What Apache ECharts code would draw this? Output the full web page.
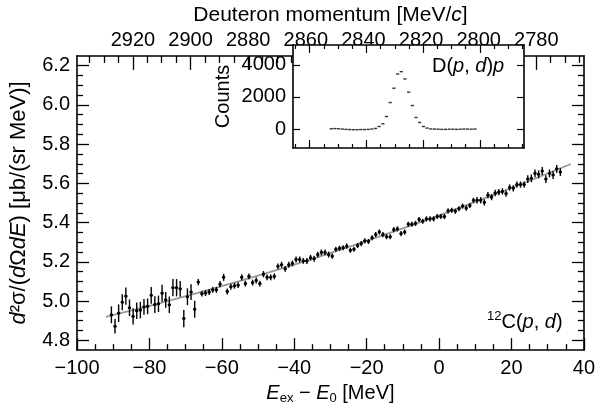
<!DOCTYPE html>
<html><head><meta charset="utf-8">
<script src="https://cdn.jsdelivr.net/npm/echarts@6/dist/echarts.min.js"></script>
<style>html,body{margin:0;padding:0;background:#fff}#c{width:598px;height:410px}</style>
</head><body><div id="c"></div>
<script>
// ---- main spectrum: 12C(p,d), bin centres in MeV ----
const energy = [-90.5,-89.5,-88.5,-87.5,-86.5,-85.5,-84.5,-83.5,-82.5,-81.5,-80.5,-79.5,-78.5,-77.5,-76.5,-75.5,-74.5,-73.5,-72.5,-71.5,
-70.5,-69.5,-68.5,-67.5,-66.5,-65.5,-64.5,-63.5,-62.5,-61.5,-60.5,-59.5,-58.5,-57.5,-56.5,-55.5,-54.5,-53.5,-52.5,-51.5,
-50.5,-49.5,-48.5,-47.5,-46.5,-45.5,-44.5,-43.5,-42.5,-41.5,-40.5,-39.5,-38.5,-37.5,-36.5,-35.5,-34.5,-33.5,-32.5,-31.5,
-30.5,-29.5,-28.5,-27.5,-26.5,-25.5,-24.5,-23.5,-22.5,-21.5,-20.5,-19.5,-18.5,-17.5,-16.5,-15.5,-14.5,-13.5,-12.5,-11.5,
-10.5,-9.5,-8.5,-7.5,-6.5,-5.5,-4.5,-3.5,-2.5,-1.5,-0.5,0.5,1.5,2.5,3.5,4.5,5.5,6.5,7.5,8.5,
9.5,10.5,11.5,12.5,13.5,14.5,15.5,16.5,17.5,18.5,19.5,20.5,21.5,22.5,23.5,24.5,25.5,26.5,27.5,28.5,
29.5,30.5,31.5,32.5,33.5];
const crossSection = [4.930,4.871,4.938,4.994,5.025,4.966,4.922,4.951,4.954,4.970,4.973,5.029,4.982,4.986,5.040,5.006,4.981,5.068,5.068,5.062,
4.911,5.022,5.046,4.958,5.097,5.038,5.041,5.046,5.057,5.057,5.086,5.121,5.049,5.073,5.078,5.081,5.121,5.089,5.126,5.094,
5.105,5.089,5.137,5.121,5.121,5.126,5.177,5.185,5.164,5.185,5.192,5.212,5.212,5.205,5.204,5.221,5.216,5.237,5.248,5.248,
5.237,5.229,5.264,5.269,5.272,5.280,5.259,5.264,5.283,5.293,5.307,5.304,5.323,5.339,5.352,5.339,5.328,5.328,5.364,5.368,
5.344,5.352,5.392,5.392,5.396,5.416,5.407,5.419,5.419,5.419,5.431,5.431,5.431,5.460,5.463,5.458,5.471,5.484,5.474,5.487,
5.514,5.514,5.514,5.503,5.540,5.530,5.551,5.556,5.559,5.548,5.579,5.575,5.594,5.594,5.594,5.622,5.626,5.651,5.646,5.663,
5.622,5.651,5.643,5.674,5.658];
const crossSectionErr = [0.043,0.037,0.045,0.041,0.044,0.042,0.042,0.042,0.042,0.040,0.040,0.043,0.043,0.042,0.043,0.040,0.042,0.044,0.044,0.040,
0.044,0.043,0.040,0.043,0.016,0.015,0.015,0.015,0.015,0.015,0.016,0.018,0.015,0.015,0.015,0.015,0.016,0.015,0.015,0.015,
0.015,0.015,0.016,0.015,0.015,0.015,0.015,0.015,0.015,0.015,0.015,0.015,0.015,0.015,0.015,0.015,0.015,0.015,0.015,0.015,
0.015,0.013,0.013,0.013,0.013,0.013,0.013,0.013,0.013,0.013,0.013,0.013,0.013,0.013,0.013,0.013,0.013,0.013,0.013,0.013,
0.013,0.013,0.013,0.013,0.013,0.013,0.013,0.013,0.013,0.013,0.013,0.013,0.013,0.013,0.013,0.013,0.013,0.013,0.013,0.013,
0.013,0.016,0.016,0.016,0.016,0.016,0.016,0.016,0.016,0.016,0.016,0.016,0.016,0.016,0.016,0.020,0.020,0.020,0.020,0.020,
0.020,0.020,0.020,0.020,0.020];
// ---- fitted curve (grey) ----
const fitEnergy = [-92,-80,-60,-40,-20,0,20,36.4];
const fitValue  = [4.920,4.975,5.076,5.186,5.307,5.437,5.577,5.699];
// ---- inset: D(p,d)p counts vs deuteron momentum ----
const insetMomentum = [2852.4,2851.1,2849.8,2848.5,2847.2,2845.9,2844.6,2843.3,2842.0,2840.7,2839.4,2838.1,2836.8,2835.5,2834.2,2832.9,2831.6,2830.3,2829.0,2827.7,
2826.4,2825.1,2823.8,2822.5,2821.2,2819.9,2818.6,2817.3,2816.0,2814.7,2813.4,2812.1,2810.8,2809.5,2808.2,2806.9,2805.6,2804.3,2803.0,2801.7];
const insetCounts = [20,30,20,0,-20,-30,-40,-40,-30,-30,-20,0,40,161,329,782,1652,2546,3434,3577,
3124,2298,1466,720,410,161,62,10,0,-10,-20,-20,-10,-10,-20,-10,0,0,-10,0];
// ---- tick values ----
const energyTicks = [-100,-80,-60,-40,-20,0,20,40];
const momentumMajor = [2780,2800,2820,2840,2860,2880,2900,2920];
const momentumMinor = [2765,2770,2775,2785,2790,2795,2805,2810,2815,2825,2830,2835,2845,2850,2855,2865,2870,2875,2885,2890,2895,2905,2910,2915,2925,2930,2935];
const yMajor = [4.8,5.0,5.2,5.4,5.6,5.8,6.0,6.2];
const yMinor = [4.85,4.9,4.95,5.05,5.1,5.15,5.25,5.3,5.35,5.45,5.5,5.55,5.65,5.7,5.75,5.85,5.9,5.95,6.05,6.1,6.15];
const insetYTicks = [0,2000,4000];
const insetXMajor = [2800,2820,2840,2860];
const insetXMinor = [2785,2790,2795,2805,2810,2815,2825,2830,2835,2845,2850,2855,2865];

const FONT = 'Liberation Sans, Arial, Helvetica, sans-serif';
const K = '#000';
const line = {show:true, onZero:false, lineStyle:{color:K, width:1.6}};
const noLine = {show:false, onZero:false};
const minus = v => (v < 0 ? '\u2212' + (-v) : String(v));
const lab = {color:K, fontSize:20, fontFamily:FONT};
const mkRich = fs => ({
  n:{fontSize:fs, fontFamily:FONT, color:K, lineHeight:fs+4},
  i:{fontSize:fs, fontFamily:FONT, fontStyle:'italic', color:K, lineHeight:fs+4},
  sub:{fontSize:13, fontFamily:FONT, color:K, lineHeight:15, verticalAlign:'bottom'},
  sup:{fontSize:13, fontFamily:FONT, color:K, lineHeight:13, verticalAlign:'top'}
});

const chart = echarts.init(document.getElementById('c'), null, {renderer:'canvas'});
const main = {left:77, right:13, top:45, bottom:51};
const inset = {left:293, top:45, width:231, height:103};
const IZ = 6;

const xAxes = [
  {gridIndex:0, type:'value', position:'bottom', min:-100, max:40, interval:20,
   axisLine:line, splitLine:{show:false},
   axisTick:{inside:true, length:12, lineStyle:{color:K, width:1.3}},
   minorTick:{show:true, splitNumber:4, length:6, lineStyle:{color:K, width:1.3}},
   axisLabel:Object.assign({margin:8, formatter:minus}, lab),
   name:'{i|E}{sub|ex}{n| \u2212 }{i|E}{sub|0}{n| [MeV]}', nameLocation:'middle', nameGap:25,
   nameTextStyle:{rich:mkRich(20)}},
  {gridIndex:0, type:'value', position:'top', inverse:true, min:2763.5, max:2939.4,
   axisLine:line, splitLine:{show:false},
   axisTick:{inside:true, length:14, customValues:momentumMajor, lineStyle:{color:K, width:1.3}},
   axisLabel:Object.assign({margin:5, customValues:momentumMajor, formatter:v=>String(v)}, lab),
   name:'{n|Deuteron momentum [MeV/}{i|c}{n|]}', nameLocation:'middle', nameGap:24,
   nameTextStyle:{rich:mkRich(21)}},
  {gridIndex:0, type:'value', position:'top', inverse:true, min:2763.5, max:2939.4,
   axisLine:noLine, splitLine:{show:false},
   axisTick:{inside:true, length:7, customValues:momentumMinor, lineStyle:{color:K, width:1.3}},
   axisLabel:{show:false}},
  {gridIndex:1, type:'value', position:'bottom', inverse:true, min:2784.4, max:2865.9, z:IZ,
   axisLine:line, splitLine:{show:false},
   axisTick:{inside:true, length:8, customValues:insetXMajor, lineStyle:{color:K, width:1.2}},
   axisLabel:{show:false}},
  {gridIndex:1, type:'value', position:'bottom', inverse:true, min:2784.4, max:2865.9, z:IZ,
   axisLine:noLine, splitLine:{show:false},
   axisTick:{inside:true, length:4, customValues:insetXMinor, lineStyle:{color:K, width:1.2}},
   axisLabel:{show:false}},
  {gridIndex:1, type:'value', position:'top', inverse:true, min:2784.4, max:2865.9, z:IZ,
   axisLine:line, splitLine:{show:false},
   axisTick:{inside:true, length:8, customValues:insetXMajor, lineStyle:{color:K, width:1.2}},
   axisLabel:{show:false}},
  {gridIndex:1, type:'value', position:'top', inverse:true, min:2784.4, max:2865.9, z:IZ,
   axisLine:noLine, splitLine:{show:false},
   axisTick:{inside:true, length:4, customValues:insetXMinor, lineStyle:{color:K, width:1.2}},
   axisLabel:{show:false}}
];
const yAxes = [
  {gridIndex:0, type:'value', position:'left', min:4.75, max:6.25,
   axisLine:line, splitLine:{show:false},
   axisTick:{inside:true, length:12, customValues:yMajor, lineStyle:{color:K, width:1.3}},
   axisLabel:Object.assign({margin:7, customValues:yMajor, formatter:v=>v.toFixed(1)}, lab),
   name:'{i|d}{n|\u00b2\u03c3/(}{i|d}{n|\u03a9}{i|dE}{n|) [\u03bcb/(sr MeV)]}', nameLocation:'middle', nameGap:45, nameRotate:90,
   nameTextStyle:{rich:mkRich(22)}},
  {gridIndex:0, type:'value', position:'left', min:4.75, max:6.25,
   axisLine:noLine, splitLine:{show:false},
   axisTick:{inside:true, length:6, customValues:yMinor, lineStyle:{color:K, width:1.3}},
   axisLabel:{show:false}},
  {gridIndex:0, type:'value', position:'right', min:4.75, max:6.25,
   axisLine:line, splitLine:{show:false},
   axisTick:{inside:true, length:12, customValues:yMajor, lineStyle:{color:K, width:1.3}},
   axisLabel:{show:false}},
  {gridIndex:0, type:'value', position:'right', min:4.75, max:6.25,
   axisLine:noLine, splitLine:{show:false},
   axisTick:{inside:true, length:6, customValues:yMinor, lineStyle:{color:K, width:1.3}},
   axisLabel:{show:false}},
  {gridIndex:1, type:'value', position:'left', min:-1180, max:5240, z:IZ,
   axisLine:line, splitLine:{show:false},
   axisTick:{inside:true, length:7, customValues:insetYTicks, lineStyle:{color:K, width:1.2}},
   axisLabel:Object.assign({margin:7, customValues:insetYTicks, formatter:v=>String(v)}, lab),
   name:'Counts', nameLocation:'middle', nameGap:60, nameRotate:90,
   nameTextStyle:{fontSize:20, fontFamily:FONT, color:K}},
  {gridIndex:1, type:'value', position:'right', min:-1180, max:5240, z:IZ,
   axisLine:line, splitLine:{show:false},
   axisTick:{inside:true, length:7, customValues:insetYTicks, lineStyle:{color:K, width:1.2}},
   axisLabel:{show:false}}
];

const points = energy.map((e, i) => [e, crossSection[i], crossSectionErr[i]]);
const fit = fitEnergy.map((e, i) => [e, fitValue[i]]);
const insetPts = insetMomentum.map((p, i) => [p, insetCounts[i]]);

chart.setOption({
  animation:false,
  backgroundColor:'#fff',
  textStyle:{fontFamily:FONT},
  grid:[
    Object.assign({containLabel:false}, main),
    Object.assign({containLabel:false, show:true, backgroundColor:'#fff', borderWidth:0, z:3}, inset)
  ],
  xAxis:xAxes,
  yAxis:yAxes,
  series:[
    {type:'line', xAxisIndex:0, yAxisIndex:0, data:fit, smooth:0.4, symbol:'none',
     lineStyle:{color:'#9a9a9a', width:1.8}, z:2},
    {type:'custom', xAxisIndex:0, yAxisIndex:0, data:points, z:3,
     renderItem:(params, api) => {
       const e = api.value(0), v = api.value(1), err = api.value(2);
       const t = api.coord([e, v + err]), b = api.coord([e, v - err]);
       const l = api.coord([e - 0.45, v]), r = api.coord([e + 0.45, v]);
       const c = api.coord([e, v]);
       return {type:'group', children:[
         {type:'line', shape:{x1:t[0], y1:t[1], x2:b[0], y2:b[1]}, style:{stroke:K, lineWidth:1.4}},
         {type:'line', shape:{x1:l[0], y1:l[1], x2:r[0], y2:r[1]}, style:{stroke:K, lineWidth:1.4}},
         {type:'rect', shape:{x:c[0]-1.3, y:c[1]-1.3, width:2.6, height:2.6}, style:{fill:K}}
       ]};
     }},
    {type:'scatter', xAxisIndex:3, yAxisIndex:4, data:insetPts, symbol:'rect', symbolSize:[3.2,1.4],
     itemStyle:{color:K}, z:7}
  ],
  graphic:[
    {type:'text', left:432, top:56, z:10, style:{text:'{n|D(}{i|p}{n|, }{i|d}{n|)}{i|p}', rich:mkRich(20)}},
    {type:'text', left:487, top:310, z:10, style:{text:'{sup|12}{n|C(}{i|p}{n|, }{i|d}{n|)}', rich:mkRich(20)}}
  ]
});
</script></body></html>
